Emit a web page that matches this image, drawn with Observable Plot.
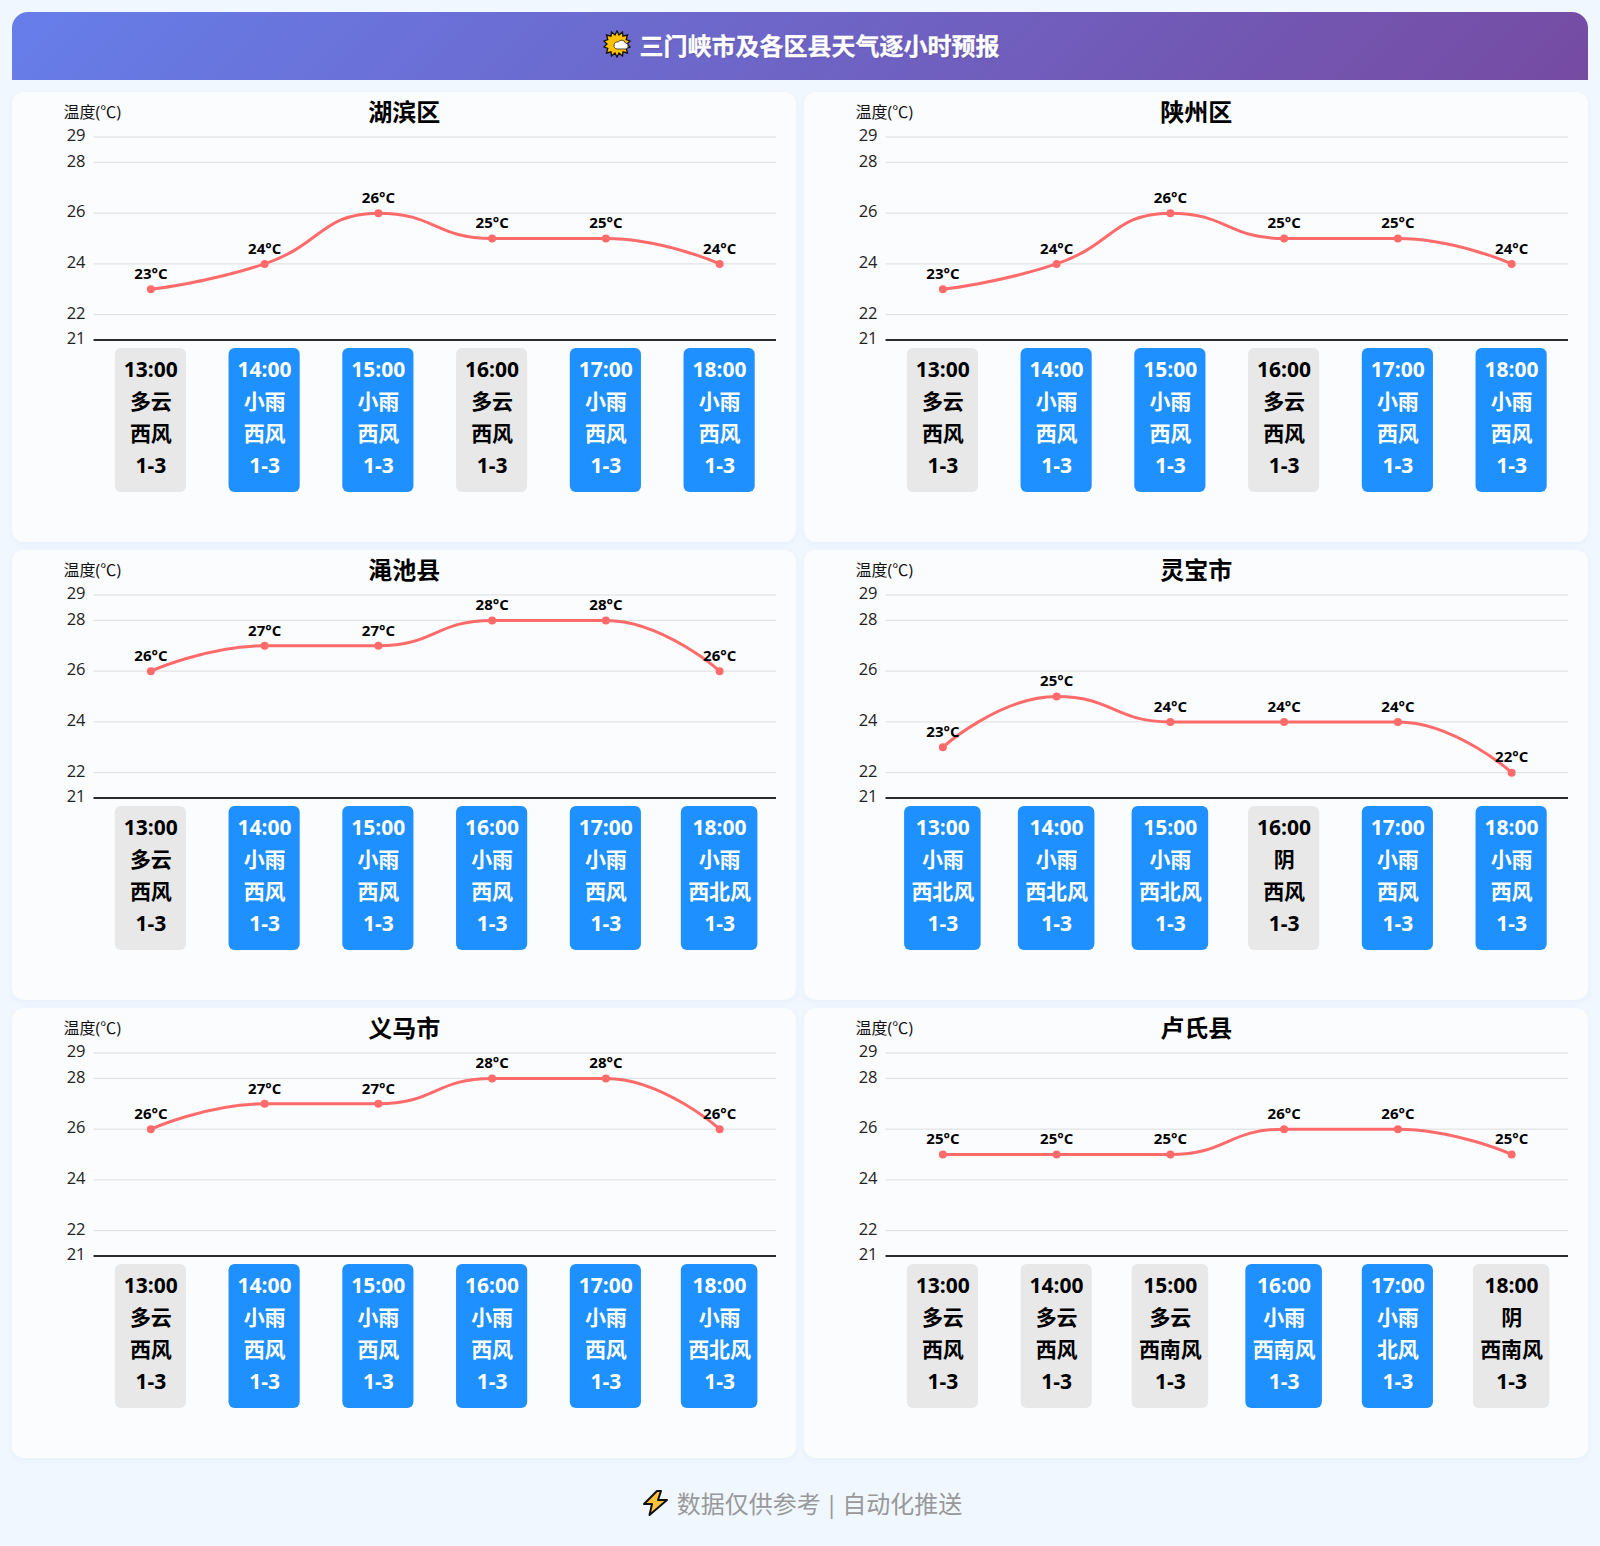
<!DOCTYPE html>
<html lang="zh">
<head>
<meta charset="utf-8">
<title>三门峡市及各区县天气逐小时预报</title>
<script src="https://cdn.jsdelivr.net/npm/d3@7"></script>
<script src="https://cdn.jsdelivr.net/npm/@observablehq/plot@0.6"></script>
<style>
  html, body { margin: 0; padding: 0; background: #f0f7ff; }
  body { width: 1600px; height: 1546px; position: relative; overflow: hidden;
    font-family: "Open Sans", "Noto Sans CJK SC", sans-serif; }
  #header { position: absolute; left: 13px; top: 9px; width: 1576px; height: 70px;
    color: #fff; font-size: 24px; font-weight: 700; display: flex; align-items: center;
    justify-content: center; text-shadow: 1px 1px 2px rgba(0,0,0,.15); -webkit-text-stroke: .3px #fff; z-index: 1; }
  #headerBg { position: absolute; left: 12px; top: 12px; width: 1576px; height: 68px;
    border-radius: 16px 16px 0 0; background: linear-gradient(135deg, #667eea 0%, #764ba2 100%); }
  #header svg { margin-right: 9px; -webkit-text-stroke: 0; }
  #grid { position: absolute; left: 12px; top: 92px; display: grid;
    grid-template-columns: 784px 784px; grid-auto-rows: 450px; column-gap: 8px; row-gap: 8px; }
  .panel { background: #fbfcfe; border-radius: 12px; box-shadow: 0 2px 6px rgba(90,120,170,.06); overflow: hidden; }
  .panel svg { display: block; background: transparent; }
  #footer { position: absolute; left: 2px; width: 1600px; top: 1483px; height: 38px; color: #999;
    font-size: 24px; display: flex; align-items: center; justify-content: center; word-spacing: -2px; }
  #footer svg { margin-right: 8px; position: relative; top: 1px; left: 0; }
</style>
</head>
<body>
<div id="headerBg"></div>
<div id="header">
  <svg width="28" height="28" viewBox="0 0 28 28" role="img" aria-label="太阳"><polygon fill="#ffc107" stroke="#111" stroke-width="1.3" points="14,1 16,5 19.5,2 20,6.2 24.5,5 23.2,9.500 27,11 24,14 27,17 23.2,18.500 24.5,23 20,21.800 19.5,26 16,23 14,27 12,23 8.500,26 8,21.800 3.500,23 4.800,18.500 1,17 4,14 1,11 4.800,9.500 3.500,5 8,6.200 8.500,2 12,5"/><path fill="#fff" stroke="#222" stroke-width=".8" d="M14 19h8a3 3 0 0 0 .4-6 4 4 0 0 0-7.200-1 3.200 3.200 0 0 0-1.200 7z"/></svg>
  <span>三门峡市及各区县天气逐小时预报</span>
</div>
<div id="grid"></div>
<div id="footer">
  <svg width="27" height="28" viewBox="0 0 27 28" role="img" aria-label="闪电"><path fill="#ffc23a" stroke="#111" stroke-width="2" stroke-linejoin="round" d="M15 2 2 15h8l-2.500 11L25 11h-9l3-9z"/></svg>
  <span>数据仅供参考 | 自动化推送</span>
</div>
<script>
const hours = ["13:00", "14:00", "15:00", "16:00", "17:00", "18:00"];
const tempTicks = [21, 22, 24, 26, 28, 29];
const gridTicks = [22, 24, 26, 28, 29];
const windForce = "1-3";

const districtNames = ["湖滨区", "陕州区", "渑池县", "灵宝市", "义马市", "卢氏县"];

const hubinTemps = [23, 24, 26, 25, 25, 24];
const shanzhouTemps = [23, 24, 26, 25, 25, 24];
const mianchiTemps = [26, 27, 27, 28, 28, 26];
const lingbaoTemps = [23, 25, 24, 24, 24, 22];
const yimaTemps = [26, 27, 27, 28, 28, 26];
const lushiTemps = [25, 25, 25, 26, 26, 25];

const hubinWeather = ["多云", "小雨", "小雨", "多云", "小雨", "小雨"];
const shanzhouWeather = ["多云", "小雨", "小雨", "多云", "小雨", "小雨"];
const mianchiWeather = ["多云", "小雨", "小雨", "小雨", "小雨", "小雨"];
const lingbaoWeather = ["小雨", "小雨", "小雨", "阴", "小雨", "小雨"];
const yimaWeather = ["多云", "小雨", "小雨", "小雨", "小雨", "小雨"];
const lushiWeather = ["多云", "多云", "多云", "小雨", "小雨", "阴"];

const hubinWind = ["西风", "西风", "西风", "西风", "西风", "西风"];
const shanzhouWind = ["西风", "西风", "西风", "西风", "西风", "西风"];
const mianchiWind = ["西风", "西风", "西风", "西风", "西风", "西北风"];
const lingbaoWind = ["西北风", "西北风", "西北风", "西风", "西风", "西风"];
const yimaWind = ["西风", "西风", "西风", "西风", "西风", "西北风"];
const lushiWind = ["西风", "西风", "西南风", "西南风", "北风", "西南风"];

const allTemps = [hubinTemps, shanzhouTemps, mianchiTemps, lingbaoTemps, yimaTemps, lushiTemps];
const allWeather = [hubinWeather, shanzhouWeather, mianchiWeather, lingbaoWeather, yimaWeather, lushiWeather];
const allWind = [hubinWind, shanzhouWind, mianchiWind, lingbaoWind, yimaWind, lushiWind];

const lineColor = "#ff6b6b";
const rainy = "#1e90ff";
const dry = "#e8e8e8";
const fontFamily = '"Open Sans", "Noto Sans CJK SC", sans-serif';

// Smooth curve: tangents follow the neighbours, held flat where the next or previous point is not beyond this one.
function smoothCurve(context) {
  let pts = [];
  const smooth = 0.5;
  const clamp = (v, a, b) => Math.min(Math.max(v, Math.min(a, b)), Math.max(a, b));
  return {
    areaStart() {}, areaEnd() {},
    lineStart() { pts = []; },
    point(x, y) { pts.push([+x, +y]); },
    lineEnd() {
      const n = pts.length;
      if (!n) return;
      context.moveTo(pts[0][0], pts[0][1]);
      const out = pts.map((p, i) => {
        if (i === 0 || i === n - 1) return { before: p, after: p };
        const [x, y] = p, [px, py] = pts[i - 1], [nx, ny] = pts[i + 1];
        const lp = Math.abs(x - px), ln = Math.abs(nx - x), r = ln / (lp + ln);
        const vx = nx - px, vy = ny - py;
        const ax = x + vx * smooth * r;
        let ay = clamp(y + vy * smooth * r, y, ny);
        let by = clamp(y - (ay - y) * lp / ln, py, y);
        const bx = x - (ax - x) * lp / ln;
        ay = y + (y - by) * ln / lp;
        return { before: [bx, by], after: [ax, ay] };
      });
      for (let i = 1; i < n; i++) {
        const c0 = out[i - 1].after, c1 = out[i].before;
        context.bezierCurveTo(c0[0], c0[1], c1[0], c1[1], pts[i][0], pts[i][1]);
      }
    }
  };
}

function panel(name, temps, weather, wind) {
  const rows = hours.map((hour, i) => ({
    hour, temp: temps[i], weather: weather[i], wind: wind[i], force: windForce,
    rain: weather[i] === "小雨", wide: wind[i].length > 2
  }));
  const cardBar = (wide) => Plot.barY(rows.filter(d => d.wide === wide), {
    x: "hour", y1: () => 21, y2: () => 21,
    fill: d => d.rain ? rainy : dry,
    insetTop: 8.5, insetBottom: -152.5,
    insetLeft: wide ? 18.6 : 21.3, insetRight: wide ? 18.6 : 21.3, rx: 6
  });
  const cardText = (field, dy, fontSize) => Plot.text(rows, {
    x: "hour", y: () => 21, text: field, dy, fontSize, fontWeight: 700,
    fill: d => d.rain ? "#ffffff" : "#000000"
  });
  return Plot.plot({
    width: 784, height: 450,
    marginLeft: 81.5, marginRight: 20, marginTop: 44.5, marginBottom: 202.5,
    style: { fontFamily, background: "transparent", overflow: "visible" },
    color: { type: "identity" },
    x: { type: "band", domain: hours, padding: 0, round: false, axis: null },
    y: { domain: [21, 29], label: null },
    marks: [
      Plot.ruleY(gridTicks, { stroke: "#dddddd", strokeWidth: 1 }),
      Plot.ruleY([21], { stroke: "#2b2b2b", strokeWidth: 2 }),
      Plot.axisY({ ticks: tempTicks, tickSize: 0, tickPadding: 8.5, fontSize: 16.5, fill: "#222222", dy: -1, label: null, tickFormat: d => String(d) }),
      Plot.text(["温度(℃)"], { frameAnchor: "top-left", lineAnchor: "middle", textAnchor: "start", dx: -30.5, dy: -24, fontSize: 16, fill: "#111111" }),
      Plot.text([name], { frameAnchor: "top", lineAnchor: "middle", dx: -31, dy: -24, fontSize: 24, fontWeight: 700, fill: "#000000" }),
      Plot.line(rows, { x: "hour", y: "temp", stroke: lineColor, strokeWidth: 3, curve: smoothCurve }),
      Plot.dot(rows, { x: "hour", y: "temp", r: 4, fill: lineColor }),
      Plot.text(rows, { x: "hour", y: "temp", text: d => `${d.temp}°C`, dy: -15, fontSize: 15, fontWeight: 700, fill: "#000000" }),
      cardBar(false),
      cardBar(true),
      cardText("hour", 30.5, 21),
      cardText("weather", 62.5, 21),
      cardText("wind", 94.5, 21),
      cardText("force", 126.5, 21)
    ]
  });
}

const grid = document.getElementById("grid");
districtNames.forEach((name, i) => {
  const div = document.createElement("div");
  div.className = "panel";
  div.appendChild(panel(name, allTemps[i], allWeather[i], allWind[i]));
  grid.appendChild(div);
});
</script>
</body>
</html>
